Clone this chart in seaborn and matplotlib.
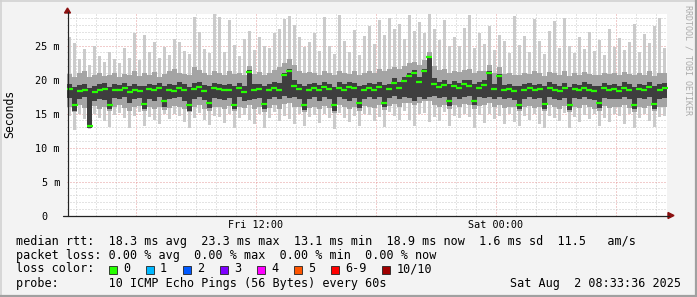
import numpy as np
import matplotlib
matplotlib.use("Agg")
import matplotlib.pyplot as plt
import seaborn as sns
from matplotlib.lines import Line2D
from matplotlib.patches import Rectangle
from matplotlib.ticker import MultipleLocator, FixedLocator

# ---------------- data (ms), one value per 15-minute column ----------------
median = [
    18.6, 16.2, 18.3, 18.5, 13.1, 18.2, 18.4, 18.6, 16.3, 18.5,
    18.4, 18.7, 18.2, 18.5, 18.3, 16.4, 18.6, 18.4, 18.7, 16.8,
    18.5, 18.3, 18.8, 18.4, 16.2, 18.6, 18.9, 18.3, 16.5, 18.7,
    18.6, 18.4, 18.5, 16.3, 18.7, 18.2, 21.1, 18.4, 18.6, 16.4,
    18.5, 18.8, 18.4, 20.6, 21.3, 19.0, 18.6, 16.3, 18.5, 18.7,
    18.4, 18.9, 18.6, 16.2, 18.8, 18.5, 18.9, 18.7, 16.5, 18.4,
    18.7, 18.5, 18.9, 16.6, 18.6, 19.5, 18.8, 19.8, 20.5, 21.0,
    19.6, 21.2, 23.3, 19.4, 18.9, 19.2, 16.8, 19.0, 18.7, 19.3,
    19.1, 16.9, 18.8, 19.2, 21.0, 18.6, 20.5, 18.4, 18.6, 18.3,
    16.3, 18.5, 18.7, 18.4, 18.6, 16.4, 18.8, 18.5, 18.3, 18.7,
    16.2, 18.6, 18.4, 18.8, 18.5, 18.3, 16.5, 18.7, 18.4, 18.6,
    18.3, 18.8, 18.5, 16.3, 18.6, 18.4, 18.9, 16.4, 18.5, 18.7,
]
rtt_max = [
    26.2, 25.4, 23.0, 24.5, 22.2, 25.0, 23.4, 22.6, 24.1, 23.0,
    22.5, 24.6, 23.2, 26.8, 22.9, 26.5, 24.0, 25.5, 23.1, 24.8,
    23.6, 26.0, 25.5, 24.2, 23.8, 29.2, 27.0, 24.5, 23.9, 29.7,
    29.2, 24.0, 28.8, 25.1, 23.5, 26.0, 27.2, 24.4, 26.3, 25.0,
    24.6, 26.8, 27.5, 28.9, 29.4, 28.0, 26.2, 24.8, 25.5, 26.9,
    24.2, 29.2, 25.0, 23.8, 29.5, 25.6, 24.1, 27.3, 23.6, 26.4,
    27.8, 25.2, 28.7, 26.5, 29.0, 27.4, 28.2, 26.0, 29.5, 27.1,
    28.4, 26.9, 29.6, 27.5, 25.8, 28.8, 24.9, 26.2, 25.0, 27.6,
    29.5, 24.6, 26.8, 25.2, 27.9, 24.4, 26.5, 25.7, 23.9, 29.3,
    25.1, 26.4, 24.0, 28.9, 25.6, 23.8, 27.1, 28.6, 24.7, 29.0,
    25.0, 23.9, 26.3, 24.5, 27.0, 24.2, 25.8, 23.6, 27.4, 24.8,
    26.1, 24.3, 25.5, 28.2, 24.0, 26.7, 25.3, 27.8, 29.1, 24.6,
]
rtt_min = [
    14.6, 12.6, 14.9, 14.2, 12.7, 15.0, 14.4, 13.9, 13.0, 14.8,
    15.1, 14.3, 12.8, 14.7, 15.2, 13.2, 14.5, 14.0, 13.4, 14.9,
    14.2, 15.0, 14.6, 13.8, 12.9, 14.4, 15.1, 14.0, 13.3, 14.7,
    14.5, 13.6, 15.0, 12.9, 14.3, 14.8, 14.1, 13.5, 14.9, 12.8,
    14.4, 15.2, 13.9, 14.6, 14.2, 13.4, 15.0, 13.1, 14.5, 14.8,
    13.6, 14.9, 14.3, 12.7, 15.1, 14.4, 13.8, 14.7, 13.2, 15.0,
    14.8, 13.9, 14.5, 13.0, 15.2, 14.6, 14.1, 15.3, 14.0, 13.2,
    14.9, 15.1, 13.7, 14.5, 13.9, 15.2, 13.1, 14.6, 14.3, 15.0,
    14.5, 12.9, 14.8, 13.6, 15.0, 14.2, 14.7, 13.4, 14.9, 13.8,
    13.2, 14.6, 14.1, 15.0, 13.5, 12.8, 14.7, 14.3, 13.9, 15.1,
    12.9, 14.5, 13.7, 14.8, 14.2, 15.0, 13.1, 14.4, 13.8, 14.9,
    14.6, 13.5, 14.9, 12.8, 14.3, 15.0, 13.9, 13.0, 14.5, 14.7,
]
mid_high = [
    20.8, 20.4, 20.9, 21.2, 20.3, 20.7, 21.0, 20.5, 20.6, 20.9,
    20.4, 20.8, 20.6, 21.3, 20.5, 21.0, 20.7, 21.1, 20.4, 20.8,
    21.2, 21.5, 21.0, 20.8, 20.6, 21.8, 21.4, 20.9, 20.7, 21.3,
    21.0, 20.6, 21.2, 20.8, 20.9, 20.7, 22.0, 20.8, 21.1, 20.6,
    21.0, 21.4, 21.8, 22.4, 23.0, 22.2, 21.3, 20.9, 21.1, 21.0,
    20.7, 21.2, 20.9, 20.6, 21.3, 21.0, 20.8, 21.2, 20.7, 21.0,
    21.3, 21.0, 21.6, 21.2, 21.5, 21.8, 21.6, 22.0, 22.4, 22.6,
    22.2, 22.8, 24.0, 22.0, 21.4, 21.6, 21.0, 21.3, 21.1, 21.4,
    21.5, 20.9, 21.2, 21.3, 22.2, 20.9, 21.8, 20.8, 20.9, 20.7,
    20.6, 21.0, 20.8, 21.2, 20.9, 20.5, 21.1, 20.9, 20.7, 21.2,
    20.5, 20.9, 20.7, 21.1, 20.8, 20.6, 20.6, 21.0, 20.8, 20.9,
    20.7, 21.1, 20.8, 20.6, 21.0, 20.7, 21.2, 20.5, 20.9, 21.0,
]
mid_low = [
    16.0, 15.2, 16.2, 15.8, 12.9, 16.1, 15.7, 15.9, 15.3, 16.0,
    16.2, 15.8, 15.4, 16.0, 16.1, 15.3, 15.9, 15.6, 16.0, 15.5,
    15.8, 16.1, 15.9, 15.6, 15.2, 15.9, 16.2, 15.7, 15.4, 16.0,
    15.9, 15.6, 16.1, 15.3, 16.0, 15.8, 16.3, 15.7, 16.0, 15.2,
    15.8, 16.2, 15.7, 16.4, 16.6, 16.0, 15.9, 15.2, 15.8, 16.0,
    15.6, 16.1, 15.8, 15.1, 16.2, 15.9, 15.7, 16.0, 15.4, 16.1,
    16.0, 15.8, 16.2, 15.5, 16.1, 16.4, 16.0, 16.5, 16.6, 16.3,
    16.5, 16.8, 16.9, 16.2, 15.9, 16.3, 15.6, 16.2, 16.0, 16.4,
    16.3, 15.7, 16.1, 16.2, 16.5, 15.9, 16.3, 15.8, 16.0, 15.9,
    15.3, 15.9, 16.1, 15.8, 16.0, 15.3, 16.2, 15.9, 15.7, 16.1,
    15.2, 16.0, 15.8, 16.2, 15.9, 15.7, 15.4, 16.1, 15.8, 16.0,
    15.9, 16.2, 15.8, 15.2, 16.0, 15.8, 16.1, 15.3, 15.9, 16.0,
]
core_high = [
    19.4, 18.9, 19.2, 19.3, 18.8, 19.0, 19.3, 19.5, 18.9, 19.3,
    19.2, 19.5, 19.0, 19.4, 19.1, 19.0, 19.4, 19.2, 19.5, 19.1,
    19.3, 19.2, 19.6, 19.3, 18.9, 19.5, 19.7, 19.2, 19.0, 19.5,
    19.4, 19.2, 19.4, 19.0, 19.5, 19.1, 21.4, 19.3, 19.4, 19.0,
    19.3, 19.6, 19.5, 20.9, 21.6, 19.9, 19.4, 19.0, 19.3, 19.5,
    19.2, 19.7, 19.4, 18.9, 19.6, 19.3, 19.7, 19.5, 19.1, 19.2,
    19.5, 19.3, 19.7, 19.2, 19.4, 20.2, 19.6, 20.4, 21.0, 21.4,
    20.3, 21.6, 23.5, 20.2, 19.7, 20.0, 19.3, 19.8, 19.5, 20.0,
    19.9, 19.4, 19.6, 20.0, 21.3, 19.4, 20.8, 19.2, 19.4, 19.1,
    19.0, 19.3, 19.5, 19.2, 19.4, 19.0, 19.6, 19.3, 19.1, 19.5,
    18.9, 19.4, 19.2, 19.6, 19.3, 19.1, 19.0, 19.5, 19.2, 19.4,
    19.1, 19.6, 19.3, 18.9, 19.4, 19.2, 19.7, 19.0, 19.3, 19.5,
]
core_low = [
    17.3, 15.4, 17.1, 17.4, 12.9, 16.9, 17.2, 17.0, 15.6, 17.3,
    17.2, 17.4, 16.6, 17.1, 17.3, 15.7, 17.2, 16.9, 17.4, 16.0,
    17.1, 17.3, 17.5, 16.8, 15.4, 17.2, 17.4, 17.0, 15.8, 17.3,
    17.2, 17.0, 17.3, 15.6, 17.4, 16.9, 17.0, 17.2, 17.3, 15.7,
    17.2, 17.4, 17.1, 17.6, 17.3, 17.5, 17.2, 15.5, 17.1, 17.4,
    16.8, 17.5, 17.2, 15.4, 17.4, 17.1, 16.9, 17.3, 15.8, 17.2,
    17.4, 17.1, 17.5, 15.9, 17.3, 17.6, 17.2, 17.5, 17.3, 16.9,
    17.5, 17.2, 17.4, 17.6, 17.3, 17.5, 16.1, 17.4, 17.2, 17.5,
    17.6, 16.2, 17.4, 17.3, 17.5, 17.2, 17.4, 17.1, 17.3, 17.0,
    15.6, 17.2, 17.4, 17.1, 17.3, 15.7, 17.4, 17.2, 17.0, 17.3,
    15.5, 17.3, 17.1, 17.4, 17.2, 17.0, 15.8, 17.3, 17.1, 17.2,
    17.1, 17.4, 17.2, 15.6, 17.3, 17.1, 17.4, 15.7, 17.2, 17.3,
]

start_hour = 2 + 33 / 60 + 36 / 3600      # Fri 02:33:36
step_minutes = 15
span_hours = 30
grid_major_hours = [6, 12, 18, 24, 30]
xtick_hours = [12, 24]
xtick_labels = ["Fri 12:00", "Sat 00:00"]
ytick_values = [0, 5, 10, 15, 20, 25]
ytick_labels = ["0  ", "5 m", "10 m", "15 m", "20 m", "25 m"]

legend_rtt = "median rtt:  18.3 ms avg  23.3 ms max  13.1 ms min  18.9 ms now  1.6 ms sd  11.5   am/s"
legend_loss = "packet loss: 0.00 % avg  0.00 % max  0.00 % min  0.00 % now"
loss_labels = ["0", "1", "2", "3", "4", "5", "6-9", "10/10"]
loss_colors = ["#26ff00", "#00b8ff", "#0059ff", "#7e00ff", "#ff00ff", "#ff5500", "#ff0000", "#a10000"]
probe_text = "probe:       10 ICMP Echo Pings (56 Bytes) every 60s"
stamp_text = "Sat Aug  2 08:33:36 2025"

# ---------------- figure ----------------
sns.set_theme(style="white")
plt.rcParams["font.family"] = ["DejaVu Sans Mono", "DejaVu Sans"]
plt.rcParams["lines.scale_dashes"] = True

W, H = 697, 297
BG = "#f3f3f3"
fig = plt.figure(figsize=(W / 100, H / 100), dpi=100, facecolor=BG)

def fx(px):
    return px / W

def fy(py):
    return 1 - py / H

ax_left, ax_right, ax_top, ax_bottom = 67, 667, 14, 215.5
ax = fig.add_axes([fx(ax_left), fy(ax_bottom), (ax_right - ax_left) / W, (ax_bottom - ax_top) / H])
ax.set_facecolor("white")

n = len(median)
w = step_minutes / 60
t = start_hour + (np.arange(n) + 0.5) * w
med = np.array(median)
lo = np.array(rtt_min); hi = np.array(rtt_max)
ml = np.array(mid_low); mh = np.array(mid_high)
cl = np.array(core_low); ch = np.array(core_high)

ax.bar(t, hi - lo, bottom=lo, width=w * 0.45, color="#cbcbcb", linewidth=0, zorder=2)
ax.bar(t, mh - ml, bottom=ml, width=w, color="#a4a4a4", linewidth=0, zorder=3)
ax.bar(t, ch - cl, bottom=cl, width=w, color="#3e3e3e", linewidth=0, zorder=4)
sns.scatterplot(x=t, y=med, marker="_", s=18, linewidth=1.6, color="#26ff00",
                ax=ax, legend=False, zorder=5)

ax.set_xlim(start_hour, start_hour + span_hours)
ax.set_ylim(0, (ax_bottom - ax_top) / 6.8)

for s in ax.spines.values():
    s.set_visible(False)

# grid
ax.xaxis.set_major_locator(FixedLocator(grid_major_hours))
ax.xaxis.set_minor_locator(MultipleLocator(1))
ax.yaxis.set_major_locator(FixedLocator(ytick_values))
ax.yaxis.set_minor_locator(MultipleLocator(1))
ax.set_axisbelow(True)
ax.grid(which="minor", color="#c8c8c8", linestyle=(0, (1, 2)), linewidth=0.72, zorder=0)
ax.grid(which="major", color="#e49a9a", linestyle=(0, (1, 2)), linewidth=0.72, zorder=0)
ax.set_xticks(grid_major_hours)
ax.set_xticklabels([xtick_labels[xtick_hours.index(h)] if h in xtick_hours else "" for h in grid_major_hours])
ax.set_yticks(ytick_values)
ax.set_yticklabels(ytick_labels)
ax.tick_params(axis="y", which="both", direction="out", length=2.2, width=0.72,
               color="#666666", labelsize=7.3, pad=2.9, labelcolor="black")
ax.tick_params(axis="x", which="both", direction="out", length=1.5, width=0.72,
               color="#666666", labelsize=7.3, pad=1.5, labelcolor="black")
ax.set_xlabel(""); ax.set_ylabel("")

# axis lines with arrows
axis_col = "#222222"
arrow_col = "#8b1010"
fig.add_artist(Line2D([fx(67.5), fx(67.5)], [fy(216), fy(12)], color=axis_col, lw=0.9))
fig.add_artist(Line2D([fx(63), fx(669)], [fy(215.5), fy(215.5)], color=axis_col, lw=0.9))
fig.add_artist(plt.Polygon([[fx(64.5), fy(13)], [fx(70.5), fy(13)], [fx(67.5), fy(8)]],
                           closed=True, color=arrow_col, transform=fig.transFigure))
fig.add_artist(plt.Polygon([[fx(668), fy(212.5)], [fx(668), fy(218.5)], [fx(674), fy(215.5)]],
                           closed=True, color=arrow_col, transform=fig.transFigure))

# labels
fig.text(fx(10), fy(114), "Seconds", rotation=90, va="center", ha="center", fontsize=8.3, color="black")
fig.text(fx(688), fy(60), "RRDTOOL / TOBI OETIKER", rotation=270, va="center", ha="center",
         fontsize=6.0, color="#ababab")

FS = 8.5
fig.text(fx(16), fy(241.3), legend_rtt, fontsize=FS, va="center", ha="left", color="black")
fig.text(fx(16), fy(255), legend_loss, fontsize=FS, va="center", ha="left", color="black")
fig.text(fx(16), fy(269), "loss color:", fontsize=FS, va="center", ha="left", color="black")
x = 108.5
for lab, col in zip(loss_labels, loss_colors):
    fig.add_artist(Rectangle((fx(x), fy(273.5)), 8 / W, 8 / H, transform=fig.transFigure,
                             facecolor=col, edgecolor="#222222", linewidth=0.6))
    fig.text(fx(x + 14.5), fy(269), lab, fontsize=FS, va="center", ha="left", color="black")
    x += 30 + 7.1 * len(lab)
fig.text(fx(16), fy(283), probe_text, fontsize=FS, va="center", ha="left", color="black")
fig.text(fx(681), fy(283), stamp_text, fontsize=FS, va="center", ha="right", color="black")

# 3D-ish frame
fig.add_artist(Line2D([0, 1], [fy(0.75), fy(0.75)], color="#d2d2d2", lw=1.2))
fig.add_artist(Line2D([fx(0.75), fx(0.75)], [0, 1], color="#d2d2d2", lw=1.2))
fig.add_artist(Line2D([0, 1], [fy(296), fy(296)], color="#a0a0a0", lw=1.6))
fig.add_artist(Line2D([fx(696), fx(696)], [0, 1], color="#a0a0a0", lw=1.6))

fig.savefig("out.png", dpi=100, facecolor=BG)
